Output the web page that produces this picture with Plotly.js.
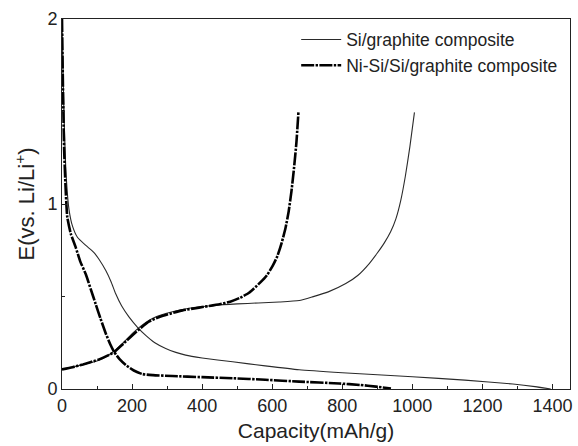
<!DOCTYPE html>
<html>
<head>
<meta charset="utf-8">
<script src="https://cdn.plot.ly/plotly-3.0.1.min.js"></script>
<style>html,body{margin:0;padding:0;background:#fff;}#chart{width:578px;height:446px;}</style>
</head>
<body>
<div id="chart"></div>
<script>
// Si/graphite composite — discharge (lithiation) branch
var siDisX = [0, 3, 7, 12, 20, 30, 44, 68, 90, 106, 125, 140, 153, 170, 191, 215, 239, 265, 296, 325, 353, 400, 487, 580, 677, 800, 1000, 1150, 1287, 1350, 1395];
var siDisY = [2.0, 1.7, 1.4, 1.15, 0.97, 0.88, 0.82, 0.776, 0.74, 0.70, 0.64, 0.58, 0.516, 0.45, 0.39, 0.335, 0.29, 0.25, 0.219, 0.198, 0.183, 0.168, 0.147, 0.125, 0.104, 0.088, 0.066, 0.048, 0.027, 0.013, 0.0];
// Si/graphite composite — charge (delithiation) branch
var siChX = [0, 30, 60, 106, 130, 153, 175, 201, 225, 249, 272, 296, 344, 391, 439, 500, 560, 620, 677, 715, 760, 810, 845, 877, 900, 920, 938, 953, 967, 980, 993, 1006];
var siChY = [0.106, 0.118, 0.132, 0.156, 0.18, 0.21, 0.25, 0.30, 0.34, 0.372, 0.393, 0.408, 0.43, 0.443, 0.453, 0.46, 0.465, 0.47, 0.478, 0.498, 0.525, 0.57, 0.615, 0.678, 0.735, 0.79, 0.85, 0.92, 1.02, 1.15, 1.31, 1.495];
// Ni-Si/Si/graphite composite — discharge branch
var niDisX = [0, 3, 6, 10, 15, 25, 39, 52, 68, 82, 96, 110, 125, 137, 149, 165, 182, 205, 229, 260, 315, 400, 487, 580, 677, 791, 850, 896, 939];
var niDisY = [2.0, 1.6, 1.3, 1.1, 0.93, 0.84, 0.767, 0.69, 0.62, 0.54, 0.46, 0.38, 0.30, 0.245, 0.20, 0.16, 0.13, 0.10, 0.081, 0.075, 0.07, 0.064, 0.058, 0.05, 0.04, 0.03, 0.022, 0.013, 0.003];
// Ni-Si/Si/graphite composite — charge branch
var niChX = [0, 30, 60, 106, 130, 149, 175, 201, 225, 249, 272, 296, 344, 391, 450, 480, 507, 534, 564, 585, 602, 615, 627, 638, 647, 655, 662, 669, 675];
var niChY = [0.106, 0.118, 0.133, 0.16, 0.18, 0.20, 0.245, 0.29, 0.33, 0.365, 0.385, 0.40, 0.425, 0.44, 0.458, 0.472, 0.492, 0.52, 0.572, 0.615, 0.668, 0.72, 0.79, 0.87, 0.96, 1.07, 1.19, 1.33, 1.5];

var seriesNames = ["Si/graphite composite", "Ni-Si/Si/graphite composite"];
var xTicks = [0, 200, 400, 600, 800, 1000, 1200, 1400];
var yTicks = [0, 1, 2];

var thin = {color: "#2a2a2a", width: 1.1, shape: "spline", smoothing: 0.5};
var thick = {color: "#000000", width: 2.6, dash: "13px,1.4px,2.4px,1.4px", shape: "spline", smoothing: 0.5};

var traces = [
  {x: siDisX, y: siDisY, mode: "lines", name: seriesNames[0], line: thin},
  {x: siChX, y: siChY, mode: "lines", name: seriesNames[0], showlegend: false, line: thin},
  {x: niDisX, y: niDisY, mode: "lines", name: seriesNames[1], line: thick},
  {x: niChX, y: niChY, mode: "lines", name: seriesNames[1], showlegend: false, line: thick}
];

var fontFam = "Liberation Sans, Arial, sans-serif";
var layout = {
  width: 578, height: 446,
  margin: {l: 62, r: 8, t: 19, b: 57},
  paper_bgcolor: "#fff", plot_bgcolor: "#fff",
  font: {family: fontFam, size: 18, color: "#222"},
  showlegend: true,
  legend: {x: 0.461, y: 0.993, xanchor: "left", yanchor: "top", bgcolor: "rgba(0,0,0,0)", borderwidth: 0,
           itemwidth: 40, font: {size: 17.5, family: fontFam, color: "#222"}},
  xaxis: {
    range: [0, 1450], tickvals: xTicks, ticktext: xTicks.map(String),
    ticks: "inside", ticklen: 5, tickwidth: 1, tickcolor: "#222",
    minor: {dtick: 100, tick0: 0, ticks: "inside", ticklen: 3, tickcolor: "#222"},
    showline: true, linecolor: "#222", linewidth: 1, mirror: true,
    showgrid: false, zeroline: false,
    tickfont: {size: 18},
    title: {text: "Capacity(mAh/g)", font: {size: 21}, standoff: 8}
  },
  yaxis: {
    range: [0, 2], tickvals: yTicks, ticktext: yTicks.map(String),
    ticks: "inside", ticklen: 5, tickwidth: 1, tickcolor: "#222",
    minor: {dtick: 0.5, tick0: 0, ticks: "inside", ticklen: 3, tickcolor: "#222"},
    showline: true, linecolor: "#222", linewidth: 1, mirror: true,
    showgrid: false, zeroline: false,
    tickfont: {size: 18},
    title: {text: "E(vs. Li/Li<sup>+</sup>)", font: {size: 22}, standoff: 6}
  }
};
Plotly.newPlot("chart", traces, layout, {displayModeBar: false, staticPlot: true});
</script>
</body>
</html>
